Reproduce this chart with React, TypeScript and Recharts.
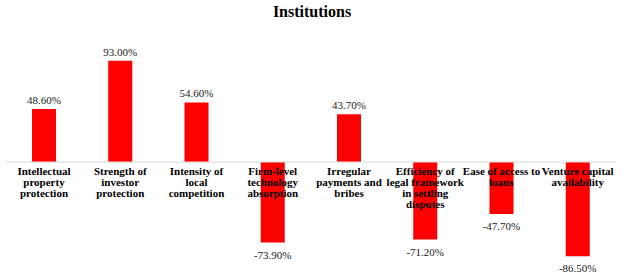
import { BarChart, Bar, XAxis, YAxis, LabelList, ReferenceLine } from 'recharts';

const categories = [
  'Intellectual property protection',
  'Strength of investor protection',
  'Intensity of local competition',
  'Firm-level technology absorption',
  'Irregular payments and bribes',
  'Efficiency of legal framework in settling disputes',
  'Ease of access to loans',
  'Venture capital availability',
];

// how each category label wraps under the zero line
const tickLines = [
  ['Intellectual', 'property', 'protection'],
  ['Strength of', 'investor', 'protection'],
  ['Intensity of', 'local', 'competition'],
  ['Firm-level', 'technology', 'absorption'],
  ['Irregular', 'payments and', 'bribes'],
  ['Efficiency of', 'legal framework', 'in settling', 'disputes'],
  ['Ease of access to', 'loans'],
  ['Venture capital', 'availability'],
];

const values = [48.6, 93.0, 54.6, -73.9, 43.7, -71.2, -47.7, -86.5];

const data = categories.map((name, i) => ({ name, value: values[i] }));

const serif = '"Liberation Serif", "Times New Roman", serif';

const edges = (props: any) => {
  const y = Number(props.y);
  const h = Number(props.height);
  return { top: Math.min(y, y + h), bottom: Math.max(y, y + h) };
};

const ValueLabel = (props: any) => {
  const { x, width, value } = props;
  const { top, bottom } = edges(props);
  const cx = Number(x) + Number(width) / 2;
  const ty = value >= 0 ? top - 5 : bottom + 16;
  return (
    <text x={cx} y={ty} textAnchor="middle" fontFamily={serif} fontSize={11} fill="#1a1a1a">
      {`${Number(value).toFixed(2)}%`}
    </text>
  );
};

const CategoryLabel = (props: any) => {
  const { x, width, index } = props;
  const v = values[index];
  const { top, bottom } = edges(props);
  const zero = v >= 0 ? bottom : top;
  const cx = Number(x) + Number(width) / 2;
  return (
    <text textAnchor="middle" fontFamily={serif} fontSize={11} fontWeight="bold" fill="#000">
      {tickLines[index].map((line, j) => (
        <tspan key={j} x={cx} y={zero + 13 + j * 11}>
          {line}
        </tspan>
      ))}
    </text>
  );
};

export default function App() {
  return (
    <div style={{ position: 'absolute', left: 0, top: 0, width: 624, height: 279, background: '#fff' }}>
      <div
        style={{
          position: 'absolute',
          top: 3,
          left: 0,
          width: 624,
          textAlign: 'center',
          fontFamily: serif,
          fontWeight: 'bold',
          fontSize: 16,
          color: '#000',
        }}
      >
        Institutions
      </div>
      <BarChart width={624} height={279} data={data} margin={{ top: 53, right: 8, bottom: 8, left: 6 }} barSize={24}>
        <XAxis dataKey="name" hide />
        <YAxis domain={[-100, 100]} hide />
        <ReferenceLine y={0} stroke="#d9d9d9" strokeWidth={1} />
        <Bar dataKey="value" fill="#ff0000" isAnimationActive={false}>
          <LabelList dataKey="value" content={ValueLabel} />
          <LabelList dataKey="name" content={CategoryLabel} />
        </Bar>
      </BarChart>
    </div>
  );
}
